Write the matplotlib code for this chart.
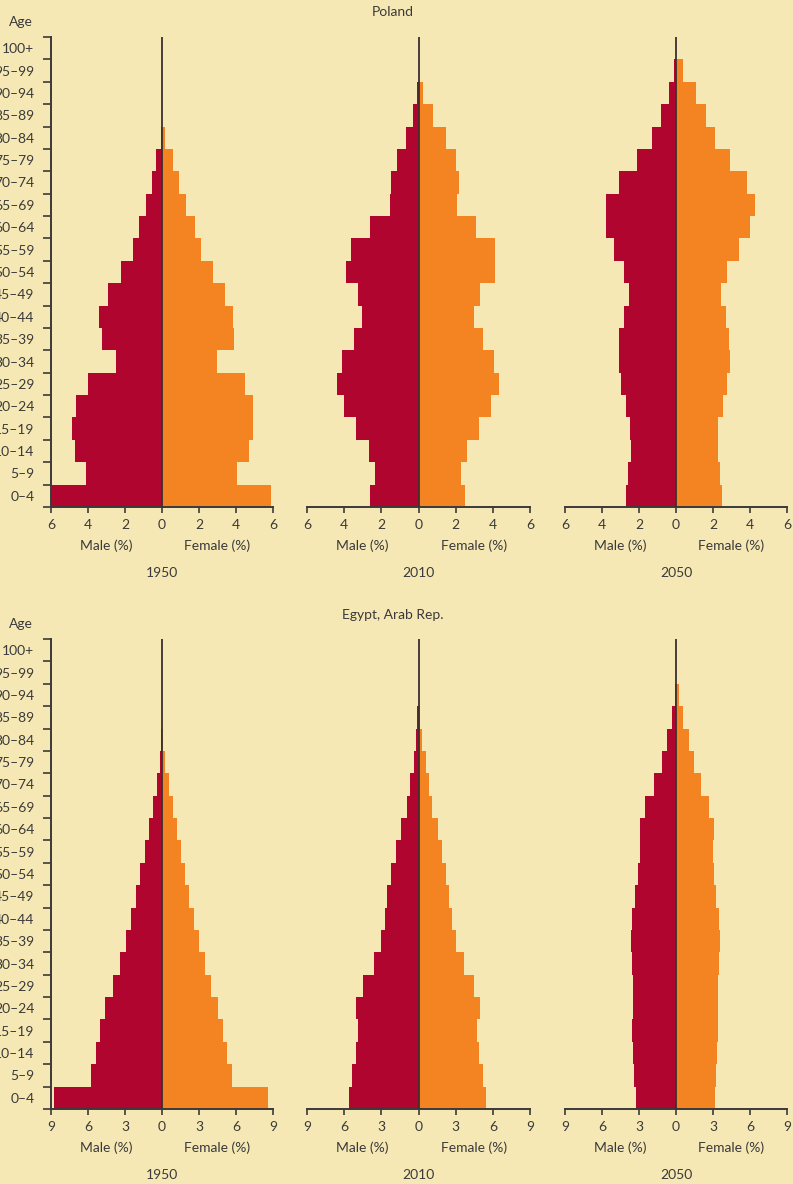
import matplotlib
matplotlib.use("Agg")
import matplotlib.pyplot as plt
import matplotlib.transforms as mtransforms
import numpy as np

plt.rcParams['font.family'] = ['Lato', 'DejaVu Sans']

# Age groups, bottom to top
ages = ['0–4', '5–9', '10–14', '15–19', '20–24', '25–29', '30–34', '35–39',
        '40–44', '45–49', '50–54', '55–59', '60–64', '65–69', '70–74',
        '75–79', '80–84', '85–89', '90–94', '95–99', '100+']
years = ['1950', '2010', '2050']

# Poland, % of population
poland_1950_male = [6.0, 4.1, 4.7, 4.87, 4.63, 4.0, 2.49, 3.24, 3.4, 2.92, 2.22,
                    1.57, 1.24, 0.87, 0.55, 0.33, 0.07, 0, 0, 0, 0]
poland_1950_female = [5.87, 4.05, 4.7, 4.92, 4.92, 4.49, 2.97, 3.89, 3.84, 3.41, 2.76,
                      2.1, 1.78, 1.3, 0.92, 0.59, 0.16, 0, 0, 0, 0]
poland_2010_male = [2.59, 2.32, 2.65, 3.35, 4.0, 4.38, 4.11, 3.46, 3.03, 3.24, 3.89,
                    3.62, 2.59, 1.51, 1.46, 1.14, 0.65, 0.27, 0.1, 0, 0]
poland_2010_female = [2.49, 2.27, 2.59, 3.24, 3.89, 4.32, 4.05, 3.46, 2.97, 3.3, 4.1,
                      4.1, 3.08, 2.05, 2.16, 2.0, 1.46, 0.76, 0.22, 0, 0]
poland_2050_male = [2.68, 2.57, 2.41, 2.47, 2.68, 2.95, 3.06, 3.06, 2.79, 2.52, 2.79,
                    3.33, 3.77, 3.77, 3.06, 2.09, 1.28, 0.79, 0.36, 0.1, 0]
poland_2050_female = [2.5, 2.4, 2.29, 2.29, 2.56, 2.77, 2.94, 2.88, 2.72, 2.45, 2.77,
                      3.42, 4.02, 4.29, 3.85, 2.94, 2.12, 1.64, 1.1, 0.39, 0]

# Egypt, Arab Rep., % of population
egypt_1950_male = [8.78, 5.78, 5.38, 5.05, 4.65, 4.0, 3.43, 2.94, 2.54, 2.13, 1.81,
                   1.4, 1.08, 0.75, 0.43, 0.19, 0.1, 0, 0, 0, 0]
egypt_1950_female = [8.57, 5.65, 5.25, 4.92, 4.52, 3.95, 3.46, 2.98, 2.57, 2.16, 1.84,
                     1.52, 1.19, 0.87, 0.54, 0.22, 0.05, 0, 0, 0, 0]
egypt_2010_male = [5.65, 5.33, 5.08, 4.92, 5.08, 4.52, 3.63, 2.99, 2.74, 2.58, 2.18,
                   1.78, 1.45, 0.89, 0.65, 0.4, 0.24, 0.1, 0, 0, 0]
egypt_2010_female = [5.41, 5.17, 4.92, 4.76, 5.0, 4.52, 3.71, 2.99, 2.74, 2.5, 2.26,
                     1.86, 1.61, 1.05, 0.81, 0.57, 0.32, 0.16, 0, 0, 0]
egypt_2050_male = [3.23, 3.39, 3.47, 3.55, 3.47, 3.47, 3.55, 3.63, 3.55, 3.31, 3.07,
                   2.9, 2.9, 2.5, 1.78, 1.13, 0.73, 0.32, 0.08, 0, 0]
egypt_2050_female = [3.15, 3.23, 3.31, 3.39, 3.39, 3.39, 3.47, 3.55, 3.47, 3.23, 3.07,
                     2.99, 3.07, 2.66, 2.02, 1.45, 1.05, 0.56, 0.24, 0, 0]

BG = '#F6E8B5'
MALE = '#B0052F'
FEMALE = '#F48421'
INK = '#3a3a3a'

W, H = 793, 1184
fig = plt.figure(figsize=(W / 100, H / 100), dpi=100, facecolor=BG)

panel_x = [(51, 273), (307, 530), (565, 787)]
rows = [
    dict(title='Poland', title_y=12, age_y=22, top=37, bottom=507, lim=6,
         ticks=[-6, -4, -2, 0, 2, 4, 6],
         data=[(poland_1950_male, poland_1950_female),
               (poland_2010_male, poland_2010_female),
               (poland_2050_male, poland_2050_female)]),
    dict(title='Egypt, Arab Rep.', title_y=615, age_y=624, top=639, bottom=1109, lim=9,
         ticks=[-9, -6, -3, 0, 3, 6, 9],
         data=[(egypt_1950_male, egypt_1950_female),
               (egypt_2010_male, egypt_2010_female),
               (egypt_2050_male, egypt_2050_female)]),
]

y = np.arange(len(ages))

for row in rows:
    fig.text(393 / W, 1 - row['title_y'] / H, row['title'], ha='center', va='center',
             fontsize=10, color=INK)
    fig.text(21 / W, 1 - row['age_y'] / H, 'Age', ha='center', va='center',
             fontsize=10, color=INK)
    for i, ((x0, x1), (male, female)) in enumerate(zip(panel_x, row['data'])):
        ax = fig.add_axes([x0 / W, 1 - row['bottom'] / H, (x1 - x0) / W,
                           (row['bottom'] - row['top']) / H])
        ax.set_facecolor(BG)
        ax.barh(y, -np.array(male), height=1.0, color=MALE, linewidth=0)
        ax.barh(y, female, height=1.0, color=FEMALE, linewidth=0)
        ax.axvline(0, color='#3b3030', lw=1.3, zorder=3)
        ax.set_xlim(-row['lim'], row['lim'])
        ax.set_ylim(-0.5, len(ages) - 0.5)

        for s in ['top', 'right']:
            ax.spines[s].set_visible(False)
        ax.spines['bottom'].set_color(INK)
        ax.spines['bottom'].set_linewidth(1.4)
        ax.set_xticks(row['ticks'])
        ax.set_xticklabels([str(abs(t)) for t in row['ticks']])
        ax.tick_params(axis='x', direction='out', length=4.5, width=1.2, color=INK,
                       labelsize=10, labelcolor=INK, pad=4)

        if i == 0:
            ax.spines['left'].set_color(INK)
            ax.spines['left'].set_linewidth(1.4)
            ax.set_yticks(np.arange(len(ages) + 1) - 0.5)
            ax.set_yticklabels([])
            ax.set_yticks(y, minor=True)
            ax.set_yticklabels(ages, minor=True)
            ax.tick_params(axis='y', which='major', direction='out', length=5.5,
                           width=1.2, color=INK)
            ax.tick_params(axis='y', which='minor', length=0, pad=12,
                           labelsize=10, labelcolor=INK)
        else:
            ax.spines['left'].set_visible(False)
            ax.set_yticks([])

        trans = mtransforms.blended_transform_factory(ax.transData, ax.transAxes)
        ax.text(-row['lim'] / 2, -0.082, 'Male (%)', transform=trans, ha='center',
                va='center', fontsize=10, color=INK)
        ax.text(row['lim'] / 2, -0.082, 'Female (%)', transform=trans, ha='center',
                va='center', fontsize=10, color=INK)
        ax.text(0, -0.141, years[i], transform=trans, ha='center', va='center',
                fontsize=10, color=INK)

fig.savefig('out.png', dpi=100, facecolor=BG)
